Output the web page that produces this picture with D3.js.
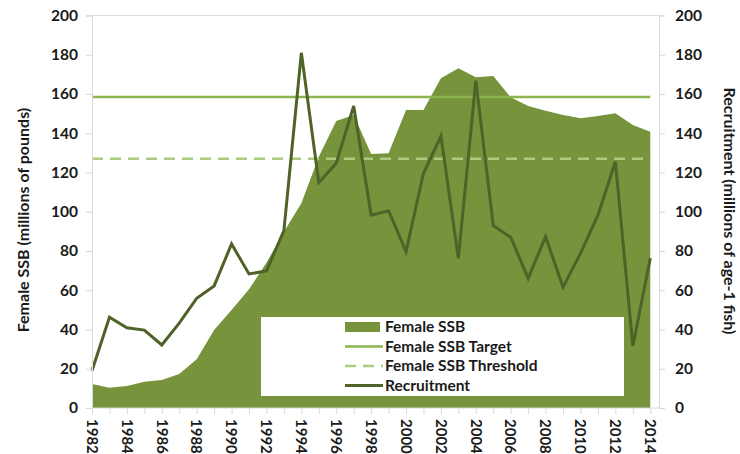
<!DOCTYPE html>
<html>
<head>
<meta charset="utf-8">
<script src="https://cdn.jsdelivr.net/npm/d3@7"></script>
<style>
  body { margin: 0; background: #fff; }
  svg { display: block; font-family: Lato, "Open Sans", sans-serif; font-weight: bold; }
</style>
</head>
<body>
<div id="chart"></div>
<script>
// data
const years = d3.range(1982, 2015);
const ssb = [12.2, 10.3, 11.2, 13.4, 14.3, 17.3, 24.8, 39.7, 49.9, 60.5, 74, 89.8, 104.3, 128, 146.2, 149.3,
  129.4, 129.8, 151.8, 151.8, 168, 173.1, 168.5, 169.2, 158.3, 153.9, 151.5, 149.3, 147.6, 148.8, 150.2, 144.2, 140.8];
const recruitment = [19, 46.2, 40.9, 39.7, 32.1, 43.2, 55.9, 62.2, 83.6, 68.3, 69.8, 90.4, 181, 114.8, 124.7, 153.9,
  98.3, 100.5, 79.7, 119.6, 138.6, 76.3, 166.8, 92.9, 87, 66.1, 87.3, 61.5, 78.8, 98.3, 125.5, 31.6, 76.3];
const ssbTarget = 158.5;
const ssbThreshold = 127;
const yTicks = [0, 20, 40, 60, 80, 100, 120, 140, 160, 180, 200];
const xLabels = d3.range(1982, 2015, 2);
const legendItems = ["Female SSB", "Female SSB Target", "Female SSB Threshold", "Recruitment"];

const W = 740, H = 454;
const margin = {top: 15.5, right: 81, bottom: 46, left: 92};

const svg = d3.select("#chart").append("svg")
  .attr("width", W)
  .attr("height", H);

const x = d3.scaleLinear().domain([1982, 2014.5]).range([margin.left, W - margin.right]);
const yL = d3.scaleLinear().domain([0, 200]).range([H - margin.bottom, margin.top]);
const yR = d3.scaleLinear().domain([0, 200]).range([H - margin.bottom, margin.top]);

const grey = "#d9d9d9";
const ink = "#1a1a1a";

// frame
svg.append("line")
  .attr("x1", x(1982)).attr("x2", x(2014.5))
  .attr("y1", yL(200)).attr("y2", yL(200))
  .attr("stroke", grey);

// SSB area
svg.append("path")
  .datum(years)
  .attr("fill", "#77933c")
  .attr("d", d3.area()
    .x(d => x(d))
    .y0(yL(0))
    .y1((d, i) => yL(ssb[i])));

// reference lines
svg.append("line")
  .attr("x1", x(1982)).attr("x2", x(2014))
  .attr("y1", yL(ssbTarget)).attr("y2", yL(ssbTarget))
  .attr("stroke", "#8db44f").attr("stroke-width", 2.5);

svg.append("line")
  .attr("x1", x(1982)).attr("x2", x(2014))
  .attr("y1", yL(ssbThreshold)).attr("y2", yL(ssbThreshold))
  .attr("stroke", "#abcc80").attr("stroke-width", 2.5)
  .attr("stroke-dasharray", "11,7");

// recruitment
svg.append("path")
  .datum(years)
  .attr("fill", "none")
  .attr("stroke", "#4f6228")
  .attr("stroke-width", 3)
  .attr("d", d3.line()
    .x(d => x(d))
    .y((d, i) => yR(recruitment[i])));

// axes
const axisL = svg.append("g")
  .attr("transform", `translate(${margin.left},0)`)
  .call(d3.axisLeft(yL).tickValues(yTicks).tickSize(6).tickPadding(8));
const axisR = svg.append("g")
  .attr("transform", `translate(${W - margin.right},0)`)
  .call(d3.axisRight(yR).tickValues(yTicks).tickSize(6).tickPadding(10));
const axisX = svg.append("g")
  .attr("transform", `translate(0,${H - margin.bottom})`)
  .call(d3.axisBottom(x).tickValues(years).tickSize(6).tickFormat(""));

[axisL, axisR, axisX].forEach(g => {
  g.selectAll("path.domain").attr("stroke", grey);
  g.selectAll(".tick line").attr("stroke", grey);
  g.selectAll("text")
    .attr("font-family", "Lato, 'Open Sans', sans-serif")
    .attr("font-weight", "bold")
    .attr("font-size", 15.5)
    .attr("fill", ink);
});
axisX.select("path.domain").attr("d", `M${x(1982)},0H${x(2014.5)}`);

svg.append("g").selectAll("text")
  .data(xLabels)
  .join("text")
  .attr("transform", d => `translate(${x(d)},${H - margin.bottom + 11}) rotate(90)`)
  .attr("dy", "0.35em")
  .attr("font-size", 15)
  .attr("fill", ink)
  .text(d => d);

// axis titles
svg.append("text")
  .attr("transform", `translate(23,220) rotate(-90)`)
  .attr("text-anchor", "middle")
  .attr("dy", "0.35em")
  .attr("font-size", 16)
  .attr("fill", ink)
  .text("Female SSB (millions of pounds)");

svg.append("text")
  .attr("transform", `translate(730,211) rotate(90)`)
  .attr("text-anchor", "middle")
  .attr("dy", "0.35em")
  .attr("font-size", 16)
  .attr("fill", ink)
  .text("Recruitment (millions of age-1 fish)");

// legend
const legend = svg.append("g");
legend.append("rect")
  .attr("x", 261).attr("y", 317)
  .attr("width", 363).attr("height", 79)
  .attr("fill", "#fff");

const rowY = i => 327 + i * 19.5;
const sw = legend.selectAll("g.item")
  .data(legendItems)
  .join("g")
  .attr("class", "item")
  .attr("transform", (d, i) => `translate(345,${rowY(i)})`);

sw.each(function(d, i) {
  const g = d3.select(this);
  if (i === 0) {
    g.append("rect").attr("x", 0).attr("y", -5).attr("width", 35).attr("height", 10).attr("fill", "#77933c");
  } else if (i === 1) {
    g.append("line").attr("x1", 0).attr("x2", 38).attr("stroke", "#8db44f").attr("stroke-width", 2.5);
  } else if (i === 2) {
    g.append("line").attr("x1", 0).attr("x2", 38).attr("stroke", "#abcc80").attr("stroke-width", 2.5)
      .attr("stroke-dasharray", "11,7");
  } else {
    g.append("line").attr("x1", 0).attr("x2", 38).attr("stroke", "#4f6228").attr("stroke-width", 3);
  }
  g.append("text")
    .attr("x", 40)
    .attr("dy", "0.35em")
    .attr("font-size", 15.5)
    .attr("fill", ink)
    .text(d);
});
</script>
</body>
</html>
